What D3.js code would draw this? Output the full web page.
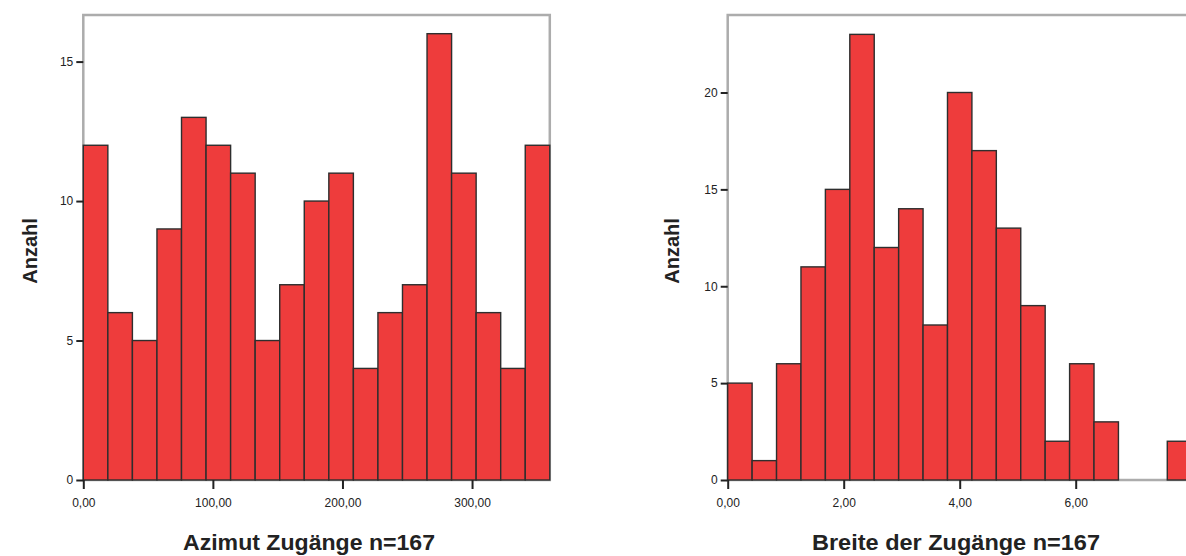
<!DOCTYPE html>
<html>
<head>
<meta charset="utf-8">
<script src="https://cdn.jsdelivr.net/npm/d3@7"></script>
<style>
  body { margin: 0; background: #fff; }
  svg { display: block; font-family: "Liberation Sans", Arial, sans-serif; }
</style>
</head>
<body>
<svg width="1186" height="556"></svg>
<script>
// histogram counts per bin
var azimutCounts = [12, 6, 5, 9, 13, 12, 11, 5, 7, 10, 11, 4, 6, 7, 16, 11, 6, 4, 12];
var breiteCounts = [5, 1, 6, 11, 15, 23, 12, 14, 8, 20, 17, 13, 9, 2, 6, 3, 0, 0, 2];
var azimutTicks = [0, 100, 200, 300];
var breiteTicks = [0, 2, 4, 6];
var azimutYTicks = [0, 5, 10, 15];
var breiteYTicks = [0, 5, 10, 15, 20];
var azimutRange = [0, 360];
var breiteRange = [0, 8];
var azimutTitle = "Azimut Zugänge n=167";
var breiteTitle = "Breite der Zugänge n=167";
var yTitle = "Anzahl";

var svg = d3.select("svg");
var fmt = function(v) { return d3.format(".2f")(v).replace(".", ","); };

function histogram(opt) {
  var x = d3.scaleLinear().domain(opt.range).range([opt.left, opt.right]);
  var y = d3.scaleLinear().domain([0, opt.yMax]).range([opt.base, opt.top]);
  var n = opt.counts.length;
  var w = (opt.range[1] - opt.range[0]) / n;
  var bins = opt.counts.map(function(c, i) {
    return { x0: opt.range[0] + i * w, x1: opt.range[0] + (i + 1) * w, count: c };
  });
  var g = svg.append("g");

  // frame
  g.append("rect")
    .attr("x", opt.left).attr("y", opt.top)
    .attr("width", opt.right - opt.left).attr("height", opt.base - opt.top)
    .attr("fill", "none").attr("stroke", "#acacac").attr("stroke-width", 2.5);

  g.append("g").selectAll("rect").data(bins.filter(function(d) { return d.count > 0; }))
    .enter().append("rect")
    .attr("x", function(d) { return x(d.x0); })
    .attr("y", function(d) { return y(d.count); })
    .attr("width", function(d) { return x(d.x1) - x(d.x0); })
    .attr("height", function(d) { return y(0) - y(d.count); })
    .attr("fill", "#ee3c3c")
    .attr("stroke", "#2e2e2e")
    .attr("stroke-width", 1.4);

  var xa = g.append("g").attr("transform", "translate(0," + opt.base + ")")
    .call(d3.axisBottom(x).tickValues(opt.ticks).tickFormat(fmt).tickSize(9).tickPadding(9));
  xa.select(".domain").remove();
  xa.selectAll("line").attr("stroke", "#222").attr("stroke-width", 2);
  xa.selectAll("text").attr("font-size", 12).attr("fill", "#222");

  var ya = g.append("g").attr("transform", "translate(" + opt.left + ",0)")
    .call(d3.axisLeft(y).tickValues(opt.yTicks).tickSize(7).tickPadding(3));
  ya.select(".domain").remove();
  ya.selectAll("line").attr("stroke", "#222").attr("stroke-width", 2);
  ya.selectAll("text").attr("font-size", 12).attr("fill", "#222");

  g.append("text")
    .attr("x", opt.titleX)
    .attr("y", 550)
    .attr("text-anchor", "middle")
    .attr("font-size", 22).attr("font-weight", "bold").attr("fill", "#222")
    .attr("textLength", opt.titleLen).attr("lengthAdjust", "spacingAndGlyphs")
    .text(opt.title);

  g.append("text")
    .attr("transform", "translate(" + opt.yTitleX + "," + 251 + ") rotate(-90)")
    .attr("text-anchor", "middle")
    .attr("font-size", 20).attr("font-weight", "bold").attr("fill", "#222")
    .text(yTitle);
}

histogram({
  counts: azimutCounts, range: azimutRange, ticks: azimutTicks, yTicks: azimutYTicks,
  left: 83.3, right: 549.8, top: 15, base: 480, yMax: 16.67,
  title: azimutTitle, titleX: 309, titleLen: 252, yTitleX: 37
});

histogram({
  counts: breiteCounts, range: breiteRange, ticks: breiteTicks, yTicks: breiteYTicks,
  left: 727.7, right: 1191.7, top: 15, base: 480, yMax: 24.0,
  title: breiteTitle, titleX: 956, titleLen: 288, yTitleX: 679
});
</script>
</body>
</html>
